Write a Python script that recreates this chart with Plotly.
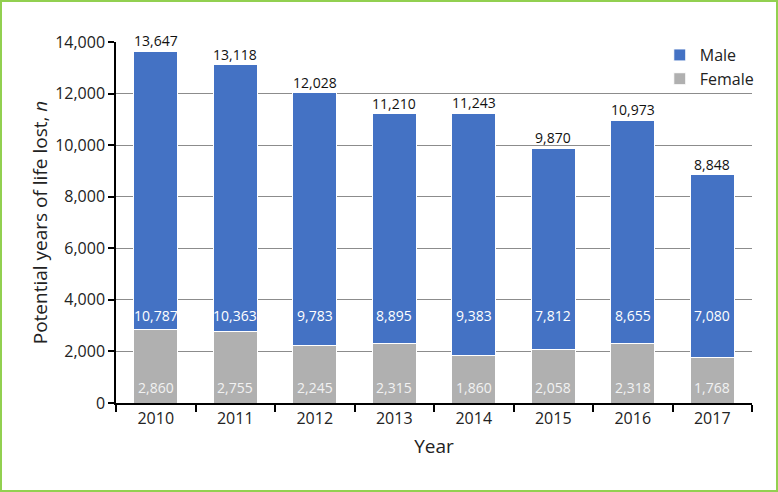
import plotly.graph_objects as go

years = ["2010", "2011", "2012", "2013", "2014", "2015", "2016", "2017"]
male = [10787, 10363, 9783, 8895, 9383, 7812, 8655, 7080]
female = [2860, 2755, 2245, 2315, 1860, 2058, 2318, 1768]
totals = [13647, 13118, 12028, 11210, 11243, 9870, 10973, 8848]

FONT = "Open Sans, Noto Sans, sans-serif"
W, H = 778, 492
ML, MR, MT, MB = 116, 26, 42, 89

fig = go.Figure()
fig.add_trace(go.Bar(x=years, y=female, name="Female", marker=dict(color="#b0b0b0", line=dict(color="white", width=1)), width=0.55))
fig.add_trace(go.Bar(x=years, y=male, name="Male", marker=dict(color="#4472c4", line=dict(color="white", width=1)), width=0.55))

ann = []
for i, (m, f, t) in enumerate(zip(male, female, totals)):
    ann.append(dict(x=i, y=t, text=f"{t:,}", showarrow=False, yanchor="bottom", yshift=-1,
                    font=dict(family=FONT, size=14, color="#111")))
    ann.append(dict(x=i, y=3400, text=f"{m:,}", showarrow=False, yanchor="middle",
                    font=dict(family=FONT, size=14, color="white")))
    ann.append(dict(x=i, y=600, text=f"{f:,}", showarrow=False, yanchor="middle",
                    font=dict(family=FONT, size=14, color="#f2f2f2")))

pw = W - ML - MR
ph = H - MT - MB
fig.add_shape(type="rect", xref="paper", yref="paper",
              x0=-(ML - 1) / pw, x1=1 + (MR - 1) / pw, y0=-(MB - 1) / ph, y1=1 + (MT - 1) / ph,
              line=dict(color="#92d050", width=2), layer="above")

fig.update_layout(
    width=W, height=H, barmode="stack",
    margin=dict(l=ML, r=MR, t=MT, b=MB),
    paper_bgcolor="white", plot_bgcolor="white",
    font=dict(family=FONT, size=16, color="#222"),
    annotations=ann,
    legend=dict(x=0.855, y=1.011, xanchor="left", yanchor="top", traceorder="reversed",
                font=dict(size=16), itemwidth=30, tracegroupgap=0, bgcolor="rgba(0,0,0,0)"),
    bargap=0.45,
)
fig.update_xaxes(type="category", range=[-0.5, 7.5], title=dict(text="Year", standoff=12), showline=True,
                 linecolor="black", linewidth=1.5,
                 ticks="outside", tickson="boundaries", ticklen=7, tickcolor="black", tickwidth=1.5,
                 tickfont=dict(size=16), showgrid=False)
fig.update_yaxes(title=dict(text="Potential years of life lost, <i>n</i>", standoff=3), range=[0, 14000],
                 dtick=2000, tickformat=",", showline=True, linecolor="black", linewidth=1.5,
                 ticks="outside", ticklen=6, tickcolor="black", tickwidth=1.5,
                 showgrid=True, gridcolor="#8c8c8c", gridwidth=1, zeroline=False, tickfont=dict(size=16))

fig.write_html("out.html", config={"displayModeBar": False}, post_script="document.body.style.margin='0';")
